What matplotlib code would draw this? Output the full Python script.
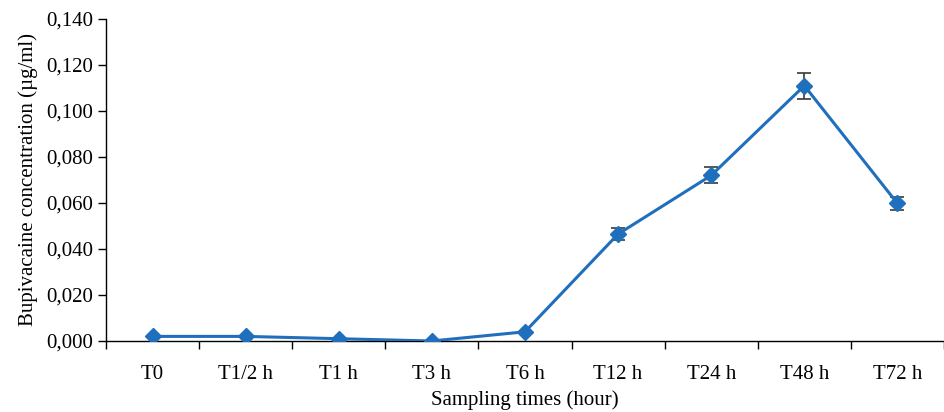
import numpy as np
import matplotlib.pyplot as plt
from matplotlib.ticker import FuncFormatter

times = ["T0", "T1/2 h", "T1 h", "T3 h", "T6 h", "T12 h", "T24 h", "T48 h", "T72 h"]
conc = [0.002, 0.002, 0.001, 0.000, 0.004, 0.0465, 0.072, 0.111, 0.0598]
err = [0, 0, 0, 0, 0, 0.0027, 0.0035, 0.0057, 0.003]

plt.rcParams['font.family'] = ['Liberation Serif', 'DejaVu Serif']

fig = plt.figure(figsize=(9.45, 4.12), dpi=100)
ax = fig.add_axes([106 / 945, 71 / 412, (944 - 106) / 945, 322 / 412])

x = np.arange(len(times))
ax.errorbar(x, conc, yerr=[e if e > 0 else np.nan for e in err], fmt='none',
            ecolor='#3a3a3a', elinewidth=1.2, capsize=5, capthick=1.2, zorder=2)
ax.plot(x, conc, color='#1f6fbd', lw=2.2, marker='D', ms=8.5, zorder=3)

ax.set_xlim(-0.5, (944 - 106) / 94 - 0.5)
ax.set_ylim(0, 0.14)
ax.set_yticks(np.arange(0, 0.141, 0.02))
ax.yaxis.set_major_formatter(FuncFormatter(lambda v, p: f"{v:.3f}".replace(".", ",")))
ax.set_xticks(x)
ax.set_xticklabels(times)
ax.set_xticks(np.arange(-0.5, 8.6, 1), minor=True)
ax.tick_params(axis='x', which='major', length=0, pad=17, labelsize=15)
ax.tick_params(axis='x', which='minor', length=6, width=1, direction='out')
ax.tick_params(axis='y', length=6, width=1, labelsize=15, pad=3)

for s in ['top', 'right']:
    ax.spines[s].set_visible(False)
ax.spines['left'].set_linewidth(1)
ax.spines['bottom'].set_linewidth(1)

ax.set_xlabel("Sampling times (hour)", fontsize=15, labelpad=5)
ax.set_ylabel("Bupivacaine concentration (µg/ml)", fontsize=15, labelpad=6)

fig.savefig("out.png", dpi=100)
